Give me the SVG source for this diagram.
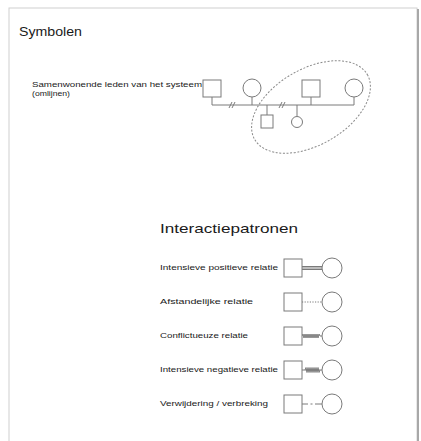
<svg xmlns="http://www.w3.org/2000/svg" width="421" height="441" viewBox="0 0 421 441">
<style>
text{font-family:"Liberation Sans",Arial,sans-serif;fill:#1a1a1a}
.sym{fill:#fff;stroke:#7a7a7a;stroke-width:1}
.ln{fill:none;stroke:#7a7a7a;stroke-width:1}
.lbl{font-size:7.5px}
</style>
<rect x="0" y="0" width="421" height="441" fill="#fff"/>
<rect x="9" y="8" width="408" height="440" fill="#fff" stroke="#d0d0d0" stroke-width="1"/>
<line x1="418" y1="9" x2="418" y2="441" stroke="#a8a8a8" stroke-width="2"/>
<g id="title"><text x="19" y="36" font-size="13" textLength="63" lengthAdjust="spacingAndGlyphs">Symbolen</text></g>
<g id="samenwonend-label">
<text x="32" y="87" font-size="7" textLength="170" lengthAdjust="spacingAndGlyphs">Samenwonende leden van het systeem</text>
<text x="32" y="96" font-size="7" textLength="38" lengthAdjust="spacingAndGlyphs">(omlijnen)</text>
</g>
<g id="connectors">
<path class="ln" d="M212 97V105M252 97V105M311 97V105M354 97V105M212 105H354M267 105V115M297 105V116"/>
<path class="ln" d="M229 108L232 102M232 108L235 102M279 108L282 102M282 108L285 102"/>
<ellipse cx="311" cy="107" rx="65" ry="38" transform="rotate(-30 311 107)" fill="none" stroke="#8a8a8a" stroke-width="1" stroke-dasharray="2 1.6"/>
<path class="ln" d="M302 266.5H322M302 268H322M302 269.5H322" stroke="#909090"/>
<path class="ln" d="M302 302H322" stroke-dasharray="1.2 1.4"/>
<path class="ln" d="M302 336L303 334L304 338L305 334L306 338L307 334L308 338L309 334L310 338L311 334L312 338L313 334L314 338L315 334L316 338L317 334L318 338L319 334L320 336H322"/>
<path class="ln" d="M302 370H322"/>
<path class="ln" d="M305 370L306 367.5L307 372.5L308 367.5L309 372.5L310 367.5L311 372.5L312 367.5L313 372.5L314 367.5L315 372.5L316 367.5L317 372.5L318 367.5L319 372.5L320 370"/>
<path class="ln" d="M302 404H308M310.5 404H312.5M315 404H322"/>
</g>
<g id="ped-square-1"><rect class="sym" x="203" y="80" width="18" height="17"/></g>
<g id="ped-circle-1"><circle class="sym" cx="252" cy="88" r="9"/></g>
<g id="ped-square-2"><rect class="sym" x="302" y="80" width="18" height="17"/></g>
<g id="ped-circle-2"><circle class="sym" cx="354" cy="88" r="9"/></g>
<g id="ped-child-square"><rect class="sym" x="261" y="115" width="12" height="13"/></g>
<g id="ped-child-circle"><circle class="sym" cx="297" cy="122" r="5.5" stroke="#666" stroke-width="2.5"/></g>
<g id="interactie-title"><text x="160" y="233" font-size="13.5" textLength="138" lengthAdjust="spacingAndGlyphs">Interactiepatronen</text></g>
<g id="row-1">
<text class="lbl" x="160" y="270" textLength="118" lengthAdjust="spacingAndGlyphs">Intensieve positieve relatie</text>
<rect class="sym" x="284" y="259" width="18" height="18"/>
<circle class="sym" cx="332" cy="268" r="10"/>
</g>
<g id="row-2">
<text class="lbl" x="160" y="304" textLength="93" lengthAdjust="spacingAndGlyphs">Afstandelijke relatie</text>
<rect class="sym" x="284" y="293" width="18" height="18"/>
<circle class="sym" cx="332" cy="302" r="10"/>
</g>
<g id="row-3">
<text class="lbl" x="160" y="338" textLength="88" lengthAdjust="spacingAndGlyphs">Conflictueuze relatie</text>
<rect class="sym" x="284" y="327" width="18" height="18"/>
<circle class="sym" cx="332" cy="336" r="10"/>
</g>
<g id="row-4">
<text class="lbl" x="160" y="372" textLength="118" lengthAdjust="spacingAndGlyphs">Intensieve negatieve relatie</text>
<rect class="sym" x="284" y="361" width="18" height="18"/>
<circle class="sym" cx="332" cy="370" r="10"/>
</g>
<g id="row-5">
<text class="lbl" x="160" y="406" textLength="108" lengthAdjust="spacingAndGlyphs">Verwijdering / verbreking</text>
<rect class="sym" x="284" y="395" width="18" height="18"/>
<circle class="sym" cx="332" cy="404" r="10"/>
</g>
</svg>
